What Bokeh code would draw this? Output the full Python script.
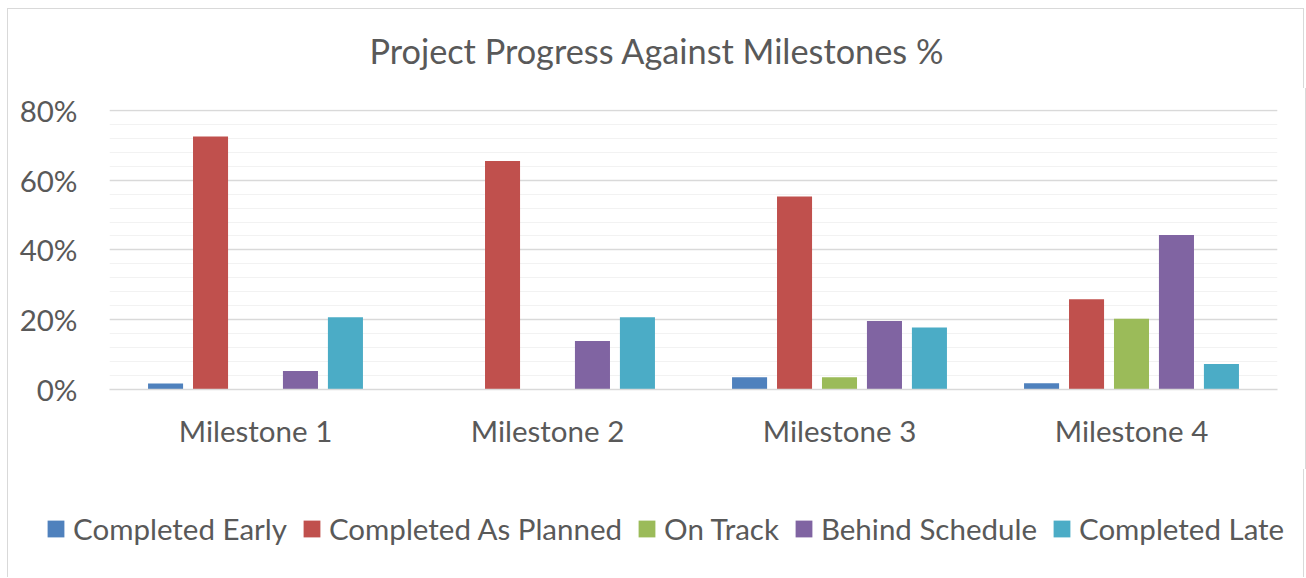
from bokeh.plotting import figure
from bokeh.models import (ColumnDataSource, FactorRange, Range1d, SingleIntervalTicker,
                          NumeralTickFormatter, Legend, LegendItem, Label)
from bokeh.transform import dodge
from bokeh.embed import file_html
from bokeh.resources import INLINE

milestones = ["Milestone 1", "Milestone 2", "Milestone 3", "Milestone 4"]
series_names = ["Completed Early", "Completed As Planned", "On Track", "Behind Schedule", "Completed Late"]
completed_early = [0.017, 0.0, 0.035, 0.018]
completed_as_planned = [0.725, 0.655, 0.553, 0.259]
on_track = [0.0, 0.0, 0.035, 0.203]
behind_schedule = [0.053, 0.139, 0.196, 0.443]
completed_late = [0.207, 0.207, 0.178, 0.073]
colors = ["#4F81BD", "#C0504D", "#9BBB59", "#8064A2", "#4BACC6"]
title_text = "Project Progress Against Milestones %"

FONT = "Lato"
TXT = "#595959"
W = 1297
BORDER = "1px solid #D9D9D9"
side_styles = {"margin-left": "7px", "border-left": BORDER, "border-right": BORDER}

source = ColumnDataSource(dict(
    milestone=milestones,
    s0=completed_early, s1=completed_as_planned, s2=on_track,
    s3=behind_schedule, s4=completed_late,
))
offsets = [-0.308, -0.154, 0.0, 0.154, 0.308]


def strip(height, x_range, y_range):
    f = figure(width=W, height=height, min_border=0, output_backend="svg", toolbar_location=None,
               x_axis_type=None, y_axis_type=None, x_range=x_range, y_range=y_range)
    f.outline_line_color = None
    f.grid.visible = False
    f.background_fill_color = "white"
    f.border_fill_color = "white"
    return f


# ---- title strip
top = strip(80, Range1d(0, 1), Range1d(0, 1))
top.add_layout(Label(x=0.5, y=0.4875, text=title_text, text_align="center", text_baseline="middle",
                     text_font=FONT, text_font_size="34.3px", text_color=TXT))
top.styles = dict(side_styles, **{"margin-top": "8px", "border-top": BORDER})

# ---- main chart
p = figure(x_range=FactorRange(*milestones, range_padding=0), y_range=Range1d(0, 0.8025),
           frame_width=1168, frame_height=280,
           min_border_left=101, min_border_right=28, min_border_top=21, min_border_bottom=80,
           output_backend="svg", toolbar_location=None)
p.outline_line_color = None
p.background_fill_color = "white"
p.border_fill_color = "white"
p.styles = dict(side_styles)

for i, col in enumerate(colors):
    p.vbar(x=dodge("milestone", offsets[i], range=p.x_range), top="s%d" % i, width=0.12,
           source=source, fill_color=col, line_color=None)

p.yaxis.ticker = SingleIntervalTicker(interval=0.2, num_minor_ticks=5)
p.yaxis.formatter = NumeralTickFormatter(format="0%")
p.ygrid.grid_line_color = "#D9D9D9"
p.ygrid.grid_line_width = 1.3
p.ygrid.minor_grid_line_color = "#F2F2F2"
p.ygrid.minor_grid_line_width = 1.2
p.xgrid.grid_line_color = None

for ax in (p.xaxis, p.yaxis):
    ax.axis_line_color = None
    ax.major_tick_line_color = None
    ax.minor_tick_line_color = None
    ax.major_label_text_font = FONT
    ax.major_label_text_color = TXT
    ax.major_label_text_font_style = "normal"
    ax.major_label_text_font_size = "29.5px"
p.xaxis.axis_line_color = "#D9D9D9"
p.xaxis.axis_line_width = 1.3
p.yaxis.major_label_standoff = 26
p.xaxis.major_label_standoff = 17

# ---- legend strip (same series drawn out of view, only the legend shows)
lg = strip(108, FactorRange(*milestones, range_padding=0), Range1d(10, 11))
lg.styles = dict(side_styles)
items = []
for i, (name, col) in enumerate(zip(series_names, colors)):
    r = lg.vbar(x=dodge("milestone", offsets[i], range=lg.x_range), top="s%d" % i, width=0.12,
                source=source, fill_color=col, line_color=None)
    items.append(LegendItem(label=name, renderers=[r]))
legend = Legend(items=items, orientation="horizontal", location=(37, 31),
                glyph_width=21, glyph_height=21, label_standoff=7, spacing=14,
                padding=0, margin=0, border_line_color=None, background_fill_alpha=0,
                label_text_font=FONT, label_text_font_size="29.5px", label_text_color=TXT)
lg.add_layout(legend, "center")

open("out.html", "w").write(file_html([top, p, lg], INLINE))
